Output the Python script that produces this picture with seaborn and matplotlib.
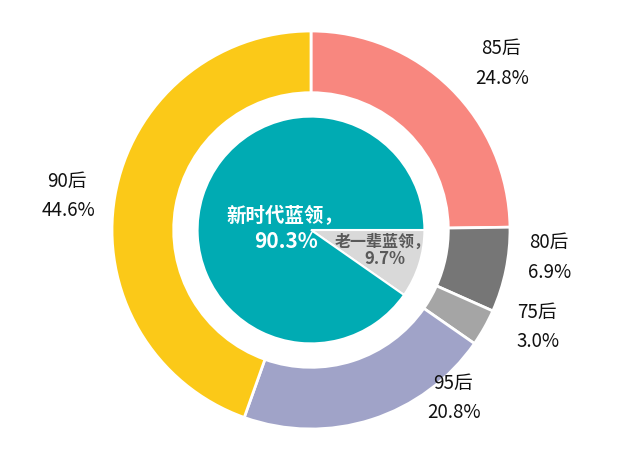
import matplotlib
matplotlib.use("Agg")
import matplotlib.pyplot as plt
import seaborn as sns

sns.set_theme(style="white")
plt.rcParams['font.family'] = ['Noto Sans CJK SC', 'DejaVu Sans']

outer_labels = ["85后", "80后", "75后", "95后", "90后"]
outer_values = [24.8, 6.9, 3.0, 20.8, 44.6]
outer_colors = ["#F8877F", "#767676", "#A5A5A5", "#A0A3C8", "#FBC918"]

inner_labels = ["老一辈蓝领，", "新时代蓝领，"]
inner_values = [9.7, 90.3]
inner_colors = ["#D9D9D9", "#00ABB3"]

W, H = 640, 452
cx, cy, R = 311, 231, 199

fig = plt.figure(figsize=(6.4, 4.52), dpi=100)
ax = fig.add_axes([0, 0, 1, 1])
ax.set_aspect('equal')
ax.axis('off')

ax.pie(outer_values, colors=outer_colors, startangle=90, counterclock=False,
       radius=1.0, wedgeprops=dict(width=0.31, edgecolor='white', linewidth=2))
ax.pie(inner_values, colors=inner_colors, startangle=0, counterclock=False,
       radius=0.57, wedgeprops=dict(edgecolor='white', linewidth=1.5))
ax.set_xlim(-cx / R, (W - cx) / R)
ax.set_ylim(-(H - cy) / R, cy / R)

def px(x, y):
    return (x - cx) / R, (cy - y) / R

outer_pos = [(501, 48), (549, 242), (537, 312), (453, 383), (67, 181)]
for lab, val, (x, y) in zip(outer_labels, outer_values, outer_pos):
    ax.text(*px(x, y), lab, ha='center', va='center', fontsize=13.5, color='#111111')
    ax.text(*px(x + 1, y + 30), f"{val:.1f}%", ha='center', va='center', fontsize=13.5, color='#111111')

ax.text(*px(285, 216), inner_labels[1], ha='center', va='center', fontsize=14,
        fontweight='bold', color='white')
ax.text(*px(286, 242), f"{inner_values[1]:.1f}%", ha='center', va='center', fontsize=15,
        fontweight='bold', color='white')
ax.text(*px(383, 242), inner_labels[0], ha='center', va='center', fontsize=11.5,
        fontweight='bold', color='#595959')
ax.text(*px(385, 259), f"{inner_values[0]:.1f}%", ha='center', va='center', fontsize=12,
        fontweight='bold', color='#595959')

fig.savefig("out.png", dpi=100, facecolor='white')
